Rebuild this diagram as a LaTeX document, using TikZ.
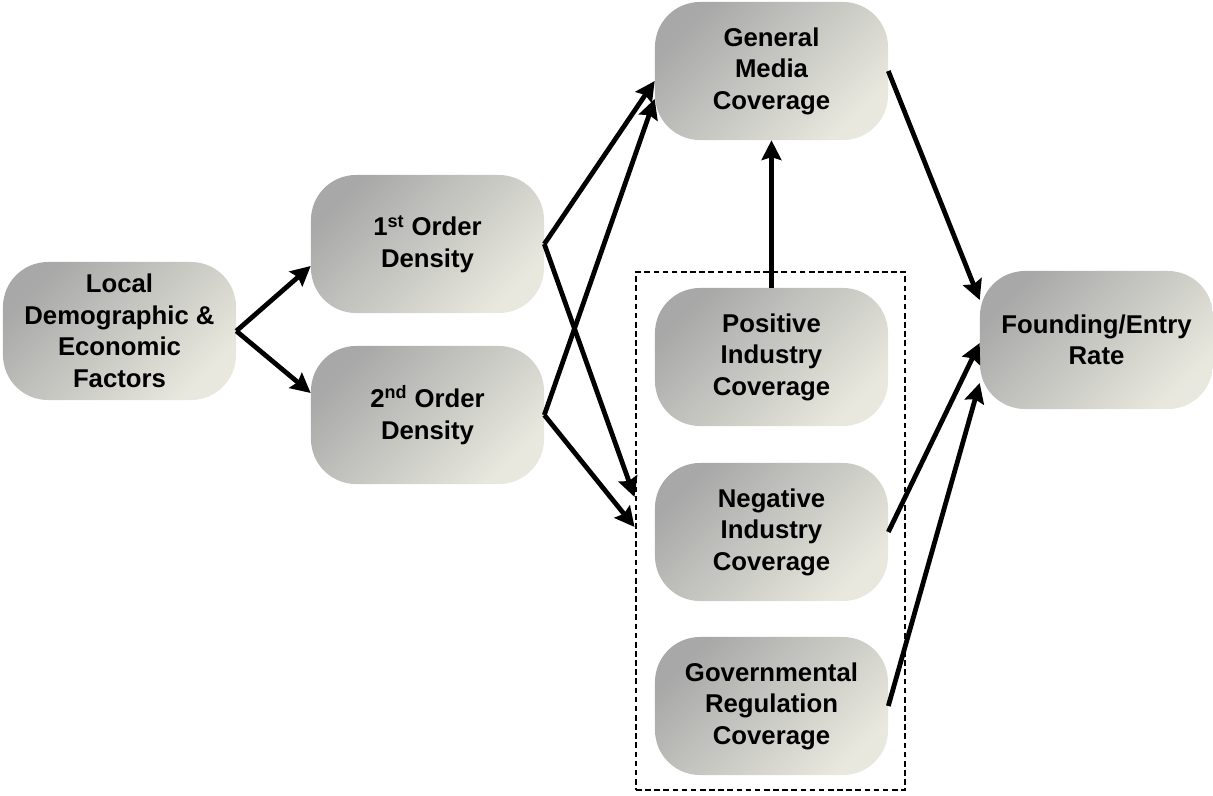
\documentclass[tikz,border=0pt]{standalone}
\usepackage{fontspec}
\setmainfont{Liberation Sans}
\usetikzlibrary{arrows.meta,calc,fit}
\definecolor{boxdark}{RGB}{168,168,168}
\definecolor{boxlight}{RGB}{232,232,222}
\tikzset{
  factor/.style={rounded corners=32pt,minimum width=5.825cm,minimum height=3.45cm,
    top color=boxdark,bottom color=boxlight,shading angle=45,align=center,
    font=\fontsize{18.3}{22.4}\selectfont\bfseries,text=black},
  effect/.style={line width=3.4pt,-{Stealth[length=14pt,width=14pt,inset=2pt]}}
}
\begin{document}
\begin{tikzpicture}[x=0.025cm,y=-0.025cm]
\useasboundingbox (0,0) rectangle (1213,796);
\node[factor](loc) at (119.5,331){Local\\Demographic \&\\Economic\\Factors};
\node[factor](first) at (427.5,244){1\textsuperscript{st} Order\\Density};
\node[factor](second) at (427.5,415){2\textsuperscript{nd} Order\\Density};
\node[factor](gen) at (771.5,71){General\\Media\\Coverage};
\node[factor](pos) at (771.5,357){Positive\\Industry\\Coverage};
\node[factor](neg) at (771.5,532){Negative\\Industry\\Coverage};
\node[factor](gov) at (771.5,706){Governmental\\Regulation\\Coverage};
\node[factor](found) at (1096.5,340){Founding/Entry\\Rate};
% industry coverage group
\node[draw,line width=2.1pt,dash pattern=on 4pt off 2.5pt,inner sep=0pt,
  fit={(636,272)(905,790)}](grp){};
\draw[effect](loc.east)--($(first.west)+(0,22)$);
\draw[effect](loc.east)--($(second.west)+(0,-22)$);
\draw[effect](first.east)--($(gen.west)+(0,10)$);
\draw[effect](first.east)--($(grp.west)+(0,-34)$);
\draw[effect](second.east)--($(gen.west)+(0,28)$);
\draw[effect](second.east)--($(grp.west)+(0,-4)$);
\draw[effect](pos.north)--(gen.south);
\draw[effect](gen.east)--($(found.west)+(0,-40)$);
\draw[effect](neg.east)--($(found.west)+(0,3)$);
\draw[effect](gov.east)--($(found.west)+(0,43)$);
\end{tikzpicture}
\end{document}
